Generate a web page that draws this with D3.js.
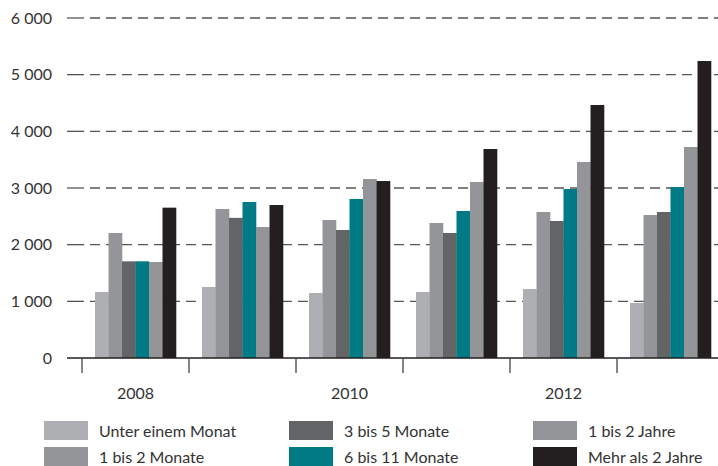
<!DOCTYPE html>
<html>
<head>
<meta charset="utf-8">
<script src="https://cdn.jsdelivr.net/npm/d3@7"></script>
<style>
    body { margin: 0; background: #fff; }
    text { font-family: Lato, "Open Sans", sans-serif; fill: #333; }
    .axis-label { font-size: 16px; }
    .legend-label { font-size: 16px; }
</style>
</head>
<body>
<div id="chart"></div>
<script>
// Data
var years = ["2008", "2009", "2010", "2011", "2012", "2013"];
var yearLabels = ["2008", "", "2010", "", "2012", ""];
var series = ["Unter einem Monat", "1 bis 2 Monate", "3 bis 5 Monate", "6 bis 11 Monate", "1 bis 2 Jahre", "Mehr als 2 Jahre"];
var seriesColors = ["#aeafb2", "#939598", "#636466", "#007a84", "#939598", "#231f20"];

var unterEinemMonat = [1165, 1253, 1147, 1165, 1218, 971];
var einBisZweiMonate = [2206, 2630, 2435, 2382, 2576, 2523];
var dreiBisFuenfMonate = [1706, 2473, 2259, 2206, 2418, 2576];
var sechsBisElfMonate = [1706, 2753, 2806, 2594, 2982, 3018];
var einBisZweiJahre = [1694, 2312, 3159, 3106, 3459, 3724];
var mehrAlsZweiJahre = [2653, 2700, 3123, 3688, 4465, 5241];

var yTicks = [0, 1000, 2000, 3000, 4000, 5000, 6000];

var allValues = [unterEinemMonat, einBisZweiMonate, dreiBisFuenfMonate, sechsBisElfMonate, einBisZweiJahre, mehrAlsZweiJahre];

var width = 718, height = 466;
var svg = d3.select("#chart").append("svg")
    .attr("width", width)
    .attr("height", height);

var y = d3.scaleLinear().domain([0, 6000]).range([358, 18]);

var x0 = d3.scaleBand()
    .domain(years)
    .range([82, 724])
    .paddingInner(0.243)
    .paddingOuter(0.1215);

var x1 = d3.scaleBand()
    .domain(series)
    .range([0, x0.bandwidth()]);

var step = x0.step();

// gridlines
var grid = svg.append("g").attr("class", "grid");
yTicks.forEach(function(t) {
    if (t === 0) return;
    grid.append("line")
        .attr("x1", 67).attr("x2", 84)
        .attr("y1", y(t)).attr("y2", y(t))
        .attr("stroke", "#555").attr("stroke-width", 1.3);
    grid.append("line")
        .attr("x1", 90).attr("x2", width)
        .attr("y1", y(t)).attr("y2", y(t))
        .attr("stroke", "#555").attr("stroke-width", 1.3)
        .attr("stroke-dasharray", "10,6");
});

// y labels
svg.append("g").selectAll("text")
    .data(yTicks)
    .enter().append("text")
    .attr("class", "axis-label")
    .attr("x", 52)
    .attr("y", function(d) { return y(d); })
    .attr("dy", "0.35em")
    .attr("text-anchor", "end")
    .text(function(d) { return d3.format(",")(d).replace(",", " "); });

// bars
var groups = svg.append("g").selectAll("g")
    .data(years)
    .enter().append("g")
    .attr("transform", function(d) { return "translate(" + x0(d) + ",0)"; });

groups.selectAll("rect")
    .data(function(d, i) {
        return series.map(function(s, j) { return { key: s, idx: j, value: allValues[j][i] }; });
    })
    .enter().append("rect")
    .attr("x", function(d) { return x1(d.key); })
    .attr("y", function(d) { return y(d.value); })
    .attr("width", x1.bandwidth() + 0.3)
    .attr("height", function(d) { return y(0) - y(d.value); })
    .attr("fill", function(d) { return seriesColors[d.idx]; });

// baseline
svg.append("line")
    .attr("x1", 67).attr("x2", width)
    .attr("y1", y(0)).attr("y2", y(0))
    .attr("stroke", "#231f20").attr("stroke-width", 1.3);

// group boundary ticks
svg.append("g").selectAll("line")
    .data(years)
    .enter().append("line")
    .attr("x1", function(d) { return x0(d) - step * x0.paddingInner() / 2; })
    .attr("x2", function(d) { return x0(d) - step * x0.paddingInner() / 2; })
    .attr("y1", y(0)).attr("y2", y(0) + 15)
    .attr("stroke", "#444").attr("stroke-width", 1.3);

// year labels
svg.append("g").selectAll("text")
    .data(years)
    .enter().append("text")
    .attr("class", "axis-label")
    .attr("x", function(d) { return x0(d) + x0.bandwidth() / 2; })
    .attr("y", 399)
    .attr("text-anchor", "middle")
    .text(function(d, i) { return yearLabels[i]; });

// legend
var legendCols = [44, 289, 533];
var legend = svg.append("g").selectAll("g")
    .data(series)
    .enter().append("g")
    .attr("transform", function(d, i) {
        var col = Math.floor(i / 2), row = i % 2;
        return "translate(" + legendCols[col] + "," + (421 + row * 26) + ")";
    });

legend.append("rect")
    .attr("width", 44)
    .attr("height", 19)
    .attr("fill", function(d, i) { return seriesColors[i]; });

legend.append("text")
    .attr("class", "legend-label")
    .attr("x", 55)
    .attr("y", 16)
    .text(function(d) { return d; });
</script>
</body>
</html>
